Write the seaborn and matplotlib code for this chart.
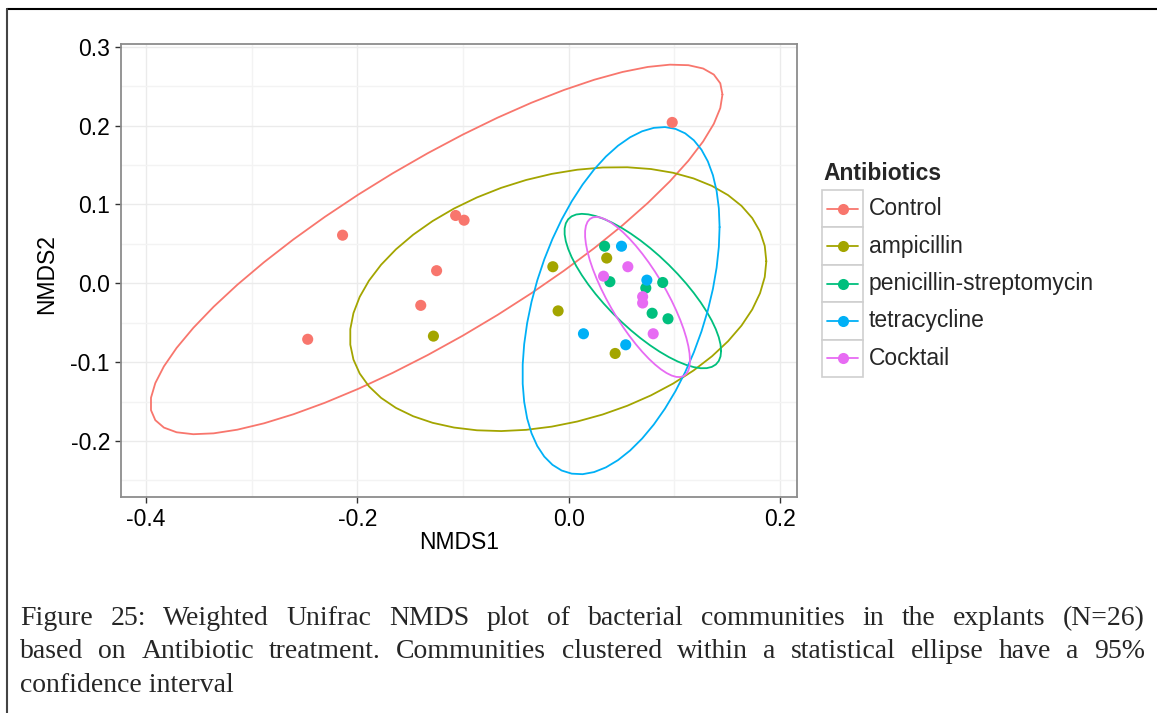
import numpy as np
import pandas as pd
import matplotlib
matplotlib.use("Agg")
import matplotlib.pyplot as plt
import seaborn as sns
from matplotlib.lines import Line2D
from matplotlib.patches import Rectangle
from matplotlib.ticker import MultipleLocator

# NMDS scores per antibiotic treatment
groups = ["Control", "ampicillin", "penicillin-streptomycin", "tetracycline", "Cocktail"]
colors = ["#F8766D", "#A3A500", "#00BF7D", "#00B0F6", "#E76BF3"]

control_x = [0.098, -0.214, -0.107, -0.099, -0.125, -0.140, -0.247]
control_y = [0.204, 0.061, 0.086, 0.080, 0.016, -0.028, -0.071]
ampicillin_x = [-0.015, 0.036, -0.010, -0.128, 0.044]
ampicillin_y = [0.021, 0.032, -0.035, -0.067, -0.089]
penstrep_x = [0.034, 0.039, 0.089, 0.073, 0.079, 0.094]
penstrep_y = [0.047, 0.002, 0.001, -0.006, -0.038, -0.045]
tetracycline_x = [0.050, 0.074, 0.014, 0.054]
tetracycline_y = [0.047, 0.004, -0.064, -0.078]
cocktail_x = [0.056, 0.033, 0.070, 0.070, 0.080]
cocktail_y = [0.021, 0.009, -0.017, -0.025, -0.064]

x_ticks = [-0.4, -0.2, 0.0, 0.2]
y_ticks = [-0.2, -0.1, 0.0, 0.1, 0.2, 0.3]

caption_lines = [
    "Figure 25: Weighted Unifrac NMDS plot of bacterial communities in the explants (N=26)",
    "based on Antibiotic treatment. Communities clustered within a statistical ellipse have a 95%",
    "confidence interval",
]

series = {
    "Control": (control_x, control_y),
    "ampicillin": (ampicillin_x, ampicillin_y),
    "penicillin-streptomycin": (penstrep_x, penstrep_y),
    "tetracycline": (tetracycline_x, tetracycline_y),
    "Cocktail": (cocktail_x, cocktail_y),
}
df = pd.concat(
    [pd.DataFrame({"NMDS1": xs, "NMDS2": ys, "Antibiotics": g}) for g, (xs, ys) in series.items()],
    ignore_index=True,
)


def cov_trob(xy, nu=5, maxit=25, tol=0.01):
    """Multivariate t robust location/scatter (as in MASS::cov.trob)."""
    n, p = xy.shape
    wt = np.ones(n)
    loc = xy.mean(axis=0)
    w = np.sqrt(wt)
    X = xy - loc
    for _ in range(maxit):
        w0 = w
        X = xy - loc
        A = np.sqrt(w / w.sum())[:, None] * X
        _, d, vt = np.linalg.svd(A, full_matrices=False)
        wX = X @ vt.T @ np.diag(1.0 / d)
        Q = (wX ** 2).sum(axis=1)
        w = wt * (nu + p) / (nu + Q)
        loc = (w[:, None] * xy).sum(axis=0) / w.sum()
        if np.all(np.abs(w - w0) < tol):
            break
    sw = np.sqrt(w)[:, None] * X
    cov = sw.T @ sw / wt.sum()
    return loc, cov


def conf_ellipse(xy, level=0.95, segments=51):
    center, shape = cov_trob(xy)
    dfd = len(xy) - 1
    # F(2, dfd) quantile in closed form
    fq = dfd / 2.0 * ((1 - level) ** (-2.0 / dfd) - 1)
    radius = np.sqrt(2 * fq)
    ang = np.linspace(0, 2 * np.pi, segments + 1)
    circ = np.column_stack([np.cos(ang), np.sin(ang)])
    upper = np.linalg.cholesky(shape).T
    return center + radius * circ @ upper


ell_frames = []
for g in groups:
    sub = df[df["Antibiotics"] == g][["NMDS1", "NMDS2"]].to_numpy()
    e = conf_ellipse(sub)
    ell_frames.append(pd.DataFrame({"NMDS1": e[:, 0], "NMDS2": e[:, 1],
                                    "Antibiotics": g, "order": np.arange(len(e))}))
ell_df = pd.concat(ell_frames, ignore_index=True)

sns.set_style("white")
plt.rcParams["font.family"] = ["Liberation Sans", "DejaVu Sans"]

W, H = 1157, 713
fig = plt.figure(figsize=(W / 100, H / 100), dpi=100)
fig.patch.set_facecolor("white")


def fx(px):
    return px / W


def fy(py):
    return 1 - py / H


ax_l, ax_r, ax_t, ax_b = 121, 797, 43.5, 496.5
ax = fig.add_axes([fx(ax_l), fy(ax_b), fx(ax_r - ax_l), (ax_b - ax_t) / H])

for g, c in zip(groups, colors):
    sub = ell_df[ell_df["Antibiotics"] == g]
    sns.lineplot(data=sub, x="NMDS1", y="NMDS2", sort=False, estimator=None,
                 color=c, lw=1.3, ax=ax, legend=False)

sns.scatterplot(data=df, x="NMDS1", y="NMDS2", hue="Antibiotics", hue_order=groups,
                palette=colors, s=64, linewidth=0, legend=False, ax=ax, zorder=3)

ax.set_xlim(-0.4237, 0.2161)
ax.set_ylim(-0.2704, 0.3041)
ax.set_xticks(x_ticks)
ax.set_yticks(y_ticks)
ax.set_xticklabels([f"{v:.1f}" for v in x_ticks])
ax.set_yticklabels([f"{v:.1f}" for v in y_ticks])
ax.xaxis.set_minor_locator(MultipleLocator(0.1))
ax.yaxis.set_minor_locator(MultipleLocator(0.05))
ax.grid(True, which="major", color="#EBEBEB", lw=1.0)
ax.grid(True, which="minor", color="#F3F3F3", lw=1.0)
ax.set_axisbelow(True)
for sp in ax.spines.values():
    sp.set_color("#8C8C8C")
    sp.set_linewidth(1.3)
ax.tick_params(which="major", length=4, width=1.0, color="#333333",
               labelsize=16.5, labelcolor="black", pad=4, direction="out",
               bottom=True, left=True)
ax.tick_params(which="minor", length=0)

ax.set_xlabel("NMDS1", fontsize=16.5, color="black")
ax.set_ylabel("NMDS2", fontsize=16.5, color="black")
ax.xaxis.set_label_coords((459 - ax_l) / (ax_r - ax_l), (ax_b - 531) / (ax_b - ax_t))
ax.yaxis.set_label_coords((58 - ax_l) / (ax_r - ax_l), (ax_b - 274) / (ax_b - ax_t))

# legend
fig.text(fx(823), fy(173), "Antibiotics", fontsize=16.5, fontweight="bold",
         ha="left", va="center")
row_top, row_h = 190, 37.4
for i, (g, c) in enumerate(zip(groups, colors)):
    top = row_top + i * row_h
    cy = top + row_h / 2
    fig.patches.append(Rectangle((fx(822), fy(top + row_h)), fx(41), row_h / H,
                                 transform=fig.transFigure, facecolor="white",
                                 edgecolor="#CFCFCF", lw=1.2))
    fig.lines.append(Line2D([fx(827), fx(858)], [fy(cy), fy(cy)], color=c, lw=1.3,
                            transform=fig.transFigure))
    fig.lines.append(Line2D([fx(842.5)], [fy(cy)], color=c, marker="o", markersize=8,
                            markeredgewidth=0, transform=fig.transFigure))
    fig.text(fx(869), fy(cy), g, fontsize=16.5, ha="left", va="center")

# outer frame (top and left edges)
fig.lines.append(Line2D([fx(7), 1.0], [fy(9), fy(9)], color="black", lw=1.5,
                        transform=fig.transFigure))
fig.lines.append(Line2D([fx(7), fx(7)], [fy(9), 0.0], color="#444444", lw=1.5,
                        transform=fig.transFigure))

# caption: justified between left and right margins, last line ragged
cap_font = dict(fontsize=20, family=["Liberation Serif", "DejaVu Serif"])
cap_left, cap_right = 20, 1145
renderer = fig.canvas.get_renderer()
for i, line in enumerate(caption_lines):
    base = 625 + i * 33.5
    if i == len(caption_lines) - 1:
        fig.text(fx(cap_left), fy(base), line, ha="left", va="baseline", **cap_font)
        continue
    words = line.split(" ")
    items = [fig.text(0, fy(base), w, ha="left", va="baseline", **cap_font) for w in words]
    widths = [t.get_window_extent(renderer).width for t in items]
    gap = (cap_right - cap_left - sum(widths)) / (len(words) - 1)
    x = cap_left
    for t, wdt in zip(items, widths):
        t.set_x(fx(x))
        x += wdt + gap

fig.savefig("out.png", dpi=100, facecolor="white")
